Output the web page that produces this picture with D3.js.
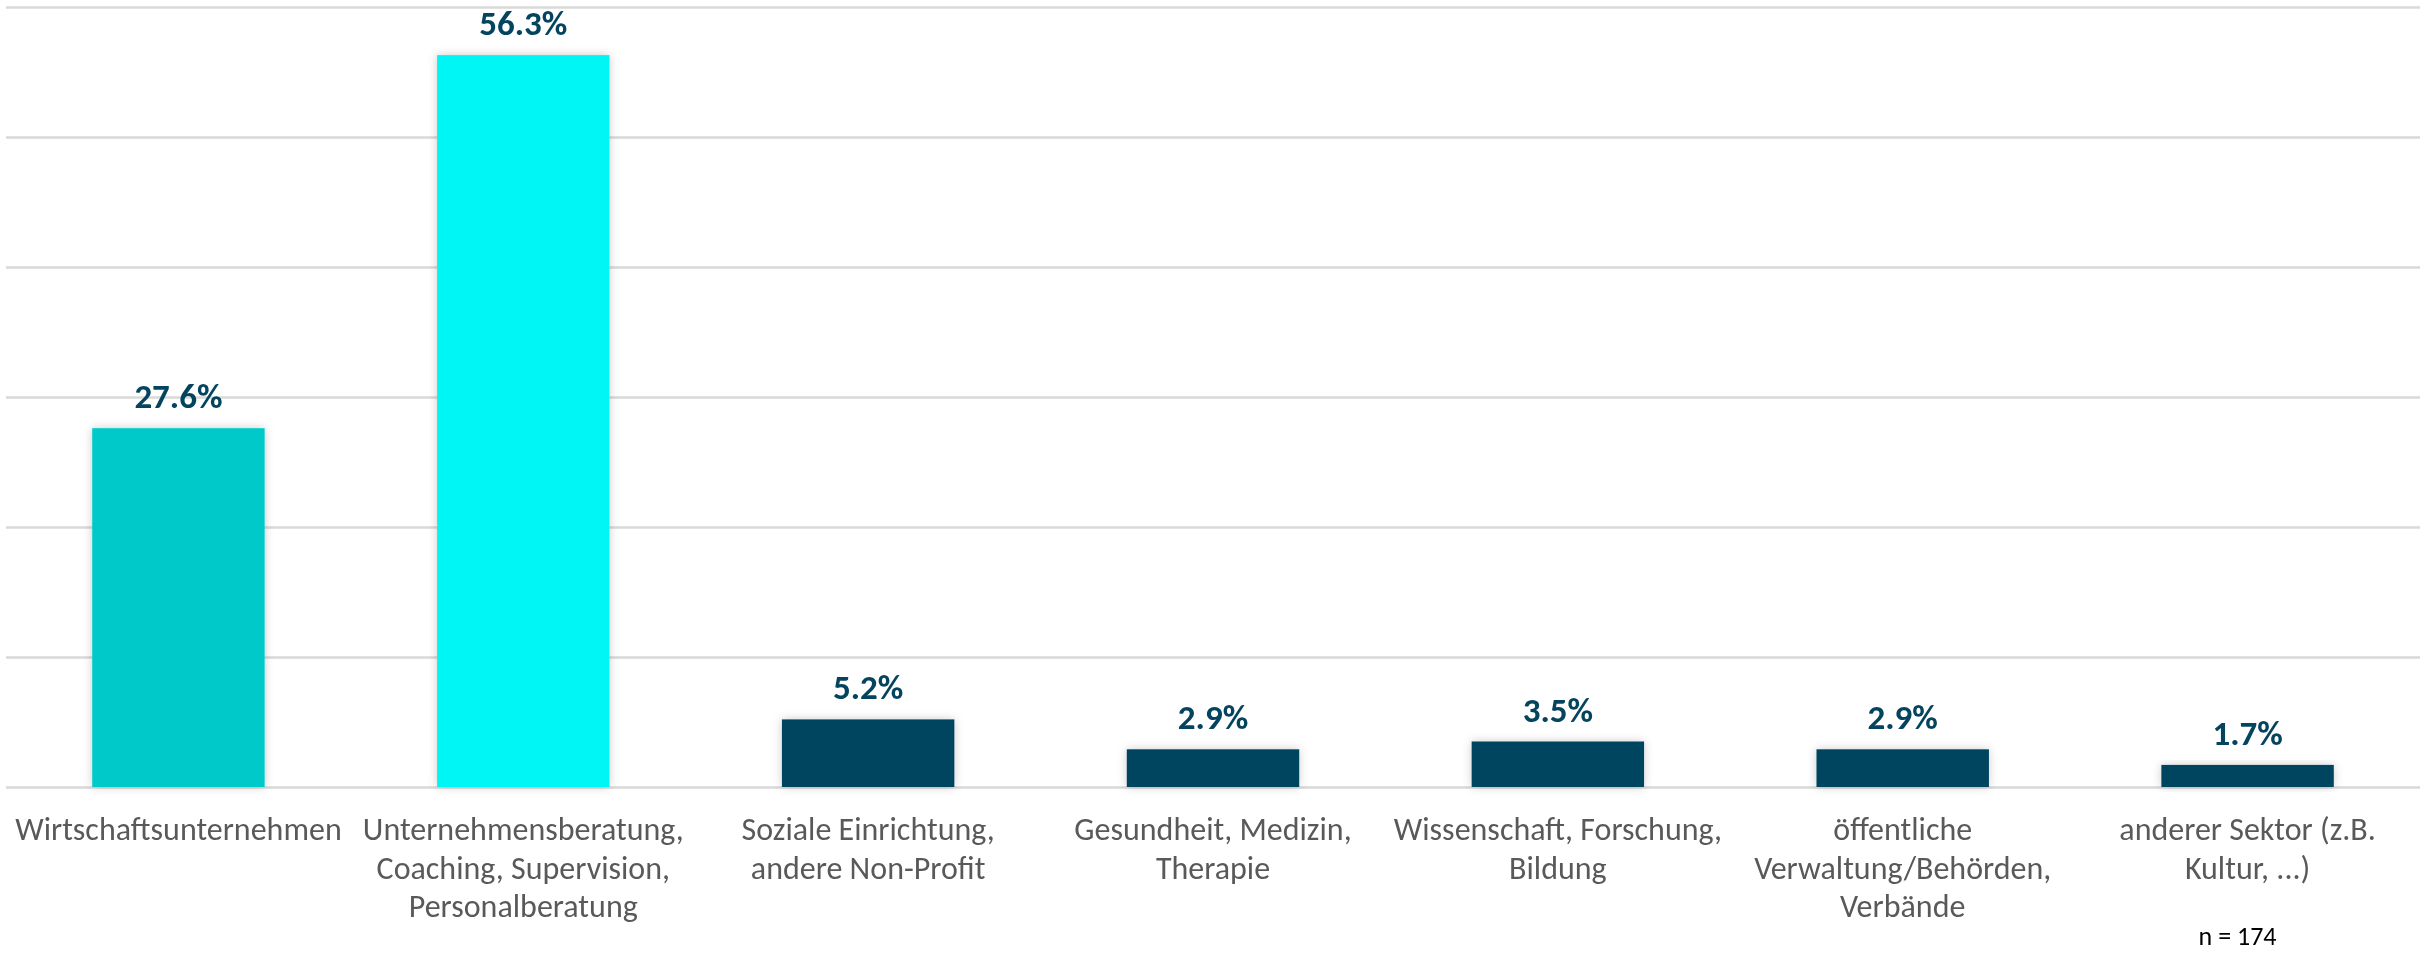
<!DOCTYPE html>
<head>
  <meta charset="utf-8">
  <script src="https://d3js.org/d3.v7.min.js"></script>
  <style>
    body { margin:0;position:fixed;top:0;right:0;bottom:0;left:0;background:#fff; }
    text { font-family: Carlito, Calibri, "Liberation Sans Narrow", "DejaVu Sans Condensed", Roboto, sans-serif; }
    .grid line { stroke: #d9d9d9; stroke-width: 2.5px; }
    .grid path { display: none; }
  </style>
</head>

<body>
<script>
  // data
  var categories = [
    "Wirtschaftsunternehmen",
    "Unternehmensberatung, Coaching, Supervision, Personalberatung",
    "Soziale Einrichtung, andere Non-Profit",
    "Gesundheit, Medizin, Therapie",
    "Wissenschaft, Forschung, Bildung",
    "öffentliche Verwaltung/Behörden, Verbände",
    "anderer Sektor (z.B. Kultur, ...)"
  ];
  var labelLines = [
    ["Wirtschaftsunternehmen"],
    ["Unternehmensberatung,", "Coaching, Supervision,", "Personalberatung"],
    ["Soziale Einrichtung,", "andere Non-Profit"],
    ["Gesundheit, Medizin,", "Therapie"],
    ["Wissenschaft, Forschung,", "Bildung"],
    ["öffentliche", "Verwaltung/Behörden,", "Verbände"],
    ["anderer Sektor (z.B.", "Kultur, ...)"]
  ];
  var values = [27.6, 56.3, 5.2, 2.9, 3.5, 2.9, 1.7];
  var gridTicks = [0, 10, 20, 30, 40, 50, 60];
  var sampleNote = "n = 174";

  var width = 2435, height = 956;

  var svg = d3.select("body").append("svg")
    .attr("width", width)
    .attr("height", height);

  // soft shadow like the office chart
  var defs = svg.append("defs");
  defs.append("filter")
    .attr("id", "shadow")
    .attr("x", "-20%").attr("y", "-20%")
    .attr("width", "140%").attr("height", "140%")
  .append("feDropShadow")
    .attr("dx", 0).attr("dy", 0)
    .attr("stdDeviation", 5)
    .attr("flood-color", "#000")
    .attr("flood-opacity", 0.2);

  var x = d3.scaleBand()
    .domain(categories)
    .range([6, 2420])
    .paddingInner(0.5)
    .paddingOuter(0.25);

  var y = d3.scaleLinear()
    .domain([0, 60])
    .range([787, 7]);

  var color = d3.scaleOrdinal()
    .domain(categories)
    .range(["#02c9c9", "#05f5f5", "#04445f", "#04445f", "#04445f", "#04445f", "#04445f"]);

  // gridlines
  svg.append("g")
    .attr("class", "grid")
    .attr("transform", "translate(6,0)")
    .call(d3.axisLeft(y).tickValues(gridTicks).tickSize(-2414).tickFormat(""));

  var data = categories.map(function(c, i) {
    return {cat: c, value: values[i], lines: labelLines[i]};
  });

  // bars
  svg.selectAll("rect.bar")
    .data(data)
    .enter().append("rect")
    .attr("class", "bar")
    .attr("x", function(d) { return x(d.cat); })
    .attr("y", function(d) { return y(d.value); })
    .attr("width", x.bandwidth())
    .attr("height", function(d) { return y(0) - y(d.value); })
    .attr("fill", function(d) { return color(d.cat); })
    .attr("filter", "url(#shadow)");

  // value labels
  svg.selectAll("text.val")
    .data(data)
    .enter().append("text")
    .attr("class", "val")
    .attr("x", function(d) { return x(d.cat) + x.bandwidth() / 2; })
    .attr("y", function(d) { return y(d.value) - 20; })
    .attr("text-anchor", "middle")
    .attr("font-size", 35)
    .attr("font-weight", "bold")
    .attr("fill", "#04445f")
    .text(function(d) { return d.value.toFixed(1) + "%"; });

  // category labels
  var cats = svg.selectAll("text.cat")
    .data(data)
    .enter().append("text")
    .attr("class", "cat")
    .attr("text-anchor", "middle")
    .attr("font-size", 32)
    .attr("fill", "#595959");

  cats.selectAll("tspan")
    .data(function(d) { return d.lines.map(function(l) { return {cat: d.cat, line: l}; }); })
    .enter().append("tspan")
    .attr("x", function(d) { return x(d.cat) + x.bandwidth() / 2; })
    .attr("y", function(d, i) { return 840 + i * 38.5; })
    .text(function(d) { return d.line; });

  // sample size
  svg.append("text")
    .attr("x", x(categories[6]) + x.bandwidth() / 2 - 10)
    .attr("y", 945)
    .attr("text-anchor", "middle")
    .attr("font-size", 26)
    .attr("fill", "#000")
    .text(sampleNote);
</script>
</body>
